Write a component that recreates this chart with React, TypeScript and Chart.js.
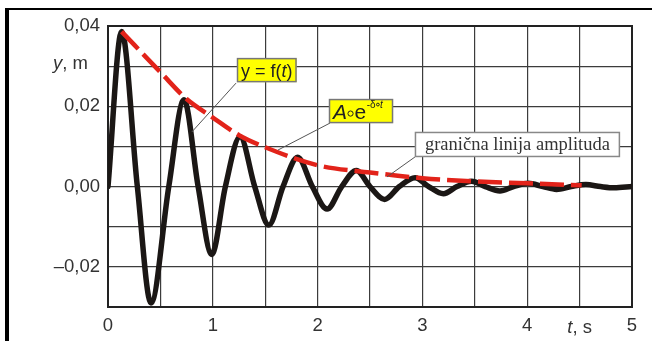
import React, { useEffect, useRef } from 'react';
import { Chart, registerables } from 'chart.js';

Chart.register(...registerables);

// ---- data ----
const curveT = [0, 0.13, 0.28, 0.41, 0.58, 0.725, 0.86, 0.99, 1.12, 1.26, 1.4, 1.535, 1.67, 1.81, 1.95, 2.09, 2.23, 2.37, 2.5, 2.64, 2.78, 2.93, 3.06, 3.2, 3.33, 3.47, 3.6, 3.74, 3.87, 4.01, 4.15, 4.28, 4.42, 4.56, 4.7, 4.83, 5.0];
const curveY = [0, 0.0386, 0, -0.029, 0, 0.0216, 0, -0.0169, 0, 0.0124, 0, -0.0096, 0, 0.0073, 0, -0.0056, 0, 0.004, 0, -0.0032, 0, 0.0022, 0, -0.0018, 0, 0.0013, 0, -0.0011, 0, 0.0008, 0, -0.0007, 0, 0.0005, 0, -0.0003, 0];

const envT = [0.13, 0.5, 0.75, 1.0, 1.25, 1.5, 2.0, 2.5, 3.0, 3.5, 4.0, 4.52];
const envY = [0.0386, 0.0285, 0.0218, 0.0172, 0.0128, 0.0098, 0.0053, 0.0035, 0.0021, 0.0013, 0.0008, 0.0003];

const yLabelValues = [-0.02, 0, 0.02, 0.04];
const yLabelTexts = ['\u20130,02', '0,00', '0,02', '0,04'];
const xLabelValues = [0, 1, 2, 3, 4, 5];
const xLabelTexts = ['0', '1', '2', '3', '4', '5'];

const curveLabel = 'y = f(t)';
const envLabel = 'A\u2218e^-\u03b4\u2218t';
const boundLabel = 'grani\u010dna linija amplituda';

// annotation anchors (data units)
const fBoxAt = { x: 1.231, y: 0.032, tx: 0.8, ty: 0.0136 };
const aBoxAt = { x: 2.109, y: 0.0218, tx: 1.622, ty: 0.0091 };
const gBoxAt = { x: 2.929, y: 0.0136, tx: 2.662, ty: 0.0024 };
const yTitleAt = { y: 0.031 };
const xTitleAt = { x: 4.5 };

const SANS = 'Arial, "Liberation Sans", sans-serif';
const SERIF = '"Liberation Serif", "Times New Roman", serif';
const TXT = '#333333';
const FS = 18.5;

type Seg = { t: string; f: string; dy?: number };

function richWidth(ctx: CanvasRenderingContext2D, segs: Seg[]) {
  let w = 0;
  for (const s of segs) {
    ctx.font = s.f;
    w += ctx.measureText(s.t).width;
  }
  return w;
}

function drawRich(ctx: CanvasRenderingContext2D, segs: Seg[], x: number, baseline: number, align: 'left' | 'center' | 'right') {
  const w = richWidth(ctx, segs);
  let cx = align === 'left' ? x : align === 'center' ? x - w / 2 : x - w;
  ctx.textAlign = 'left';
  ctx.textBaseline = 'alphabetic';
  for (const s of segs) {
    ctx.font = s.f;
    ctx.fillText(s.t, cx, baseline + (s.dy || 0));
    cx += ctx.measureText(s.t).width;
  }
}

const decor = {
  id: 'decor',
  beforeDraw(chart: any) {
    const { ctx, width, height } = chart;
    ctx.save();
    ctx.fillStyle = '#ffffff';
    ctx.fillRect(0, 0, width, height);
    ctx.restore();
  },
  beforeDatasetsDraw(chart: any) {
    const { ctx, chartArea: a } = chart;
    ctx.save();
    ctx.strokeStyle = '#222222';
    ctx.lineWidth = 2;
    ctx.strokeRect(a.left, a.top, a.right - a.left, a.bottom - a.top);
    ctx.restore();
  },
  afterDraw(chart: any) {
    const { ctx, chartArea: a, scales } = chart;
    const X = (v: number) => scales.x.getPixelForValue(v);
    const Y = (v: number) => scales.y.getPixelForValue(v);
    ctx.save();
    // outer frame lines
    ctx.fillStyle = '#000000';
    ctx.fillRect(5, 8, chart.width - 5, 2);
    ctx.fillRect(5, 8, 4, chart.height - 8);

    // axis titles
    ctx.fillStyle = TXT;
    drawRich(ctx, [{ t: 'y', f: `italic ${FS}px ${SANS}` }, { t: ', m', f: `${FS}px ${SANS}` }], a.left - 20, Y(yTitleAt.y) + 6.5, 'right');
    drawRich(ctx, [{ t: 't', f: `italic ${FS}px ${SANS}` }, { t: ', s', f: `${FS}px ${SANS}` }], X(xTitleAt.x), a.bottom + 26, 'center');

    const leader = (x1: number, y1: number, x2: number, y2: number) => {
      ctx.strokeStyle = '#555555';
      ctx.lineWidth = 1;
      ctx.beginPath();
      ctx.moveTo(x1, y1);
      ctx.lineTo(x2, y2);
      ctx.stroke();
    };
    const box = (x: number, y: number, w: number, h: number, fill: string, stroke: string) => {
      ctx.fillStyle = fill;
      ctx.fillRect(x, y, w, h);
      ctx.strokeStyle = stroke;
      ctx.lineWidth = 1.5;
      ctx.strokeRect(x + 0.5, y + 0.5, w - 1, h - 1);
    };

    // y = f(t)
    {
      const segs: Seg[] = [
        { t: 'y = f(', f: `18px ${SANS}` },
        { t: 't', f: `italic 18px ${SANS}` },
        { t: ')', f: `18px ${SANS}` },
      ];
      const bx = X(fBoxAt.x), by = Y(fBoxAt.y);
      const w = richWidth(ctx, segs) + 8, h = 24;
      leader(bx - 1, by + h + 1, X(fBoxAt.tx), Y(fBoxAt.ty));
      box(bx, by, w, h, '#ffff00', '#777777');
      ctx.fillStyle = '#222222';
      drawRich(ctx, segs, bx + w / 2, by + h / 2 + 6.5, 'center');
    }
    // A o e^-d t
    {
      const parts = envLabel.split('^');
      const bx = X(aBoxAt.x), by = Y(aBoxAt.y);
      const w = 64, h = 24;
      leader(bx + 1, by + h, X(aBoxAt.tx), Y(aBoxAt.ty));
      box(bx, by, w, h, '#ffff00', '#777777');
      ctx.fillStyle = '#222222';
      const base = by + h / 2 + 7.5;
      let cx = bx + 4;
      ctx.textAlign = 'left';
      ctx.textBaseline = 'alphabetic';
      ctx.font = `italic 21px ${SANS}`;
      ctx.fillText(parts[0].charAt(0), cx, base);
      cx += ctx.measureText(parts[0].charAt(0)).width + 0.5;
      ctx.strokeStyle = '#222222';
      ctx.lineWidth = 1;
      ctx.beginPath();
      ctx.arc(cx + 3, base - 5, 2.6, 0, Math.PI * 2);
      ctx.stroke();
      cx += 7;
      ctx.font = `21px ${SANS}`;
      ctx.fillText(parts[0].charAt(2), cx, base);
      cx += ctx.measureText(parts[0].charAt(2)).width + 0.5;
      ctx.font = `10px ${SANS}`;
      const sup = parts[1];
      const supBase = base - 11;
      ctx.fillText('-\u03b4', cx, supBase);
      cx += ctx.measureText('-\u03b4').width + 0.5;
      ctx.beginPath();
      ctx.arc(cx + 1.8, supBase - 3, 1.4, 0, Math.PI * 2);
      ctx.stroke();
      cx += 4;
      ctx.font = `italic 10px ${SANS}`;
      ctx.fillText(sup.charAt(sup.length - 1), cx, supBase);
    }
    // granicna linija amplituda
    {
      const segs: Seg[] = [{ t: boundLabel, f: `18.5px ${SERIF}` }];
      const bx = X(gBoxAt.x), by = Y(gBoxAt.y);
      const w = richWidth(ctx, segs) + 20, h = 25;
      leader(bx, by + h, X(gBoxAt.tx), Y(gBoxAt.ty));
      box(bx, by, w, h, '#ffffff', '#888888');
      ctx.fillStyle = TXT;
      drawRich(ctx, segs, bx + w / 2, by + h / 2 + 5.5, 'center');
    }
    ctx.restore();
  },
};

export default function App() {
  const ref = useRef<HTMLCanvasElement | null>(null);
  useEffect(() => {
    if (!ref.current) return;
    const chart = new Chart(ref.current, {
      type: 'scatter',
      data: {
        datasets: [
          {
            label: envLabel,
            data: envT.map((t, i) => ({ x: t, y: envY[i] })),
            showLine: true,
            borderColor: '#e2231a',
            borderWidth: 4.5,
            borderDash: [24, 7],
            borderCapStyle: 'butt',
            pointRadius: 0,
            cubicInterpolationMode: 'monotone',
            fill: false,
            order: 0,
          } as any,
          {
            label: curveLabel,
            data: curveT.map((t, i) => ({ x: t, y: curveY[i] })),
            showLine: true,
            borderColor: '#1b1715',
            borderWidth: 5.5,
            borderCapStyle: 'round',
            borderJoinStyle: 'round',
            pointRadius: 0,
            cubicInterpolationMode: 'monotone',
            fill: false,
            order: 1,
          } as any,
        ],
      },
      options: {
        responsive: false,
        animation: false,
        devicePixelRatio: 1,
        layout: { padding: { top: 26, right: 20, left: 0, bottom: 0 } },
        plugins: { legend: { display: false }, tooltip: { enabled: false } },
        scales: {
          x: {
            type: 'linear',
            min: 0,
            max: 5,
            afterFit: (s: any) => {
              s.height = 34;
            },
            ticks: {
              stepSize: 0.5,
              autoSkip: false,
              maxRotation: 0,
              padding: 8,
              color: TXT,
              font: { size: FS, family: SANS },
              callback: (v: any) => {
                const i = xLabelValues.findIndex((x) => Math.abs(x - Number(v)) < 1e-9);
                return i >= 0 ? xLabelTexts[i] : '';
              },
            },
            grid: { color: '#3c3c3c', lineWidth: 1.2, drawTicks: false },
            border: { display: false },
          },
          y: {
            type: 'linear',
            min: -0.03,
            max: 0.04,
            afterFit: (s: any) => {
              s.width = 108;
            },
            ticks: {
              stepSize: 0.01,
              autoSkip: false,
              padding: 8,
              color: TXT,
              font: { size: FS, family: SANS },
              callback: (v: any) => {
                const i = yLabelValues.findIndex((x) => Math.abs(x - Number(v)) < 1e-9);
                return i >= 0 ? yLabelTexts[i] : '';
              },
            },
            grid: { color: '#3c3c3c', lineWidth: 1.2, drawTicks: false },
            border: { display: false },
          },
        },
      },
      plugins: [decor as any],
    });
    return () => chart.destroy();
  }, []);
  return (
    <div style={{ position: 'fixed', left: 0, top: 0, width: 652, height: 341, background: '#fff' }}>
      <canvas ref={ref} width={652} height={341} style={{ width: 652, height: 341, display: 'block' }} />
    </div>
  );
}
